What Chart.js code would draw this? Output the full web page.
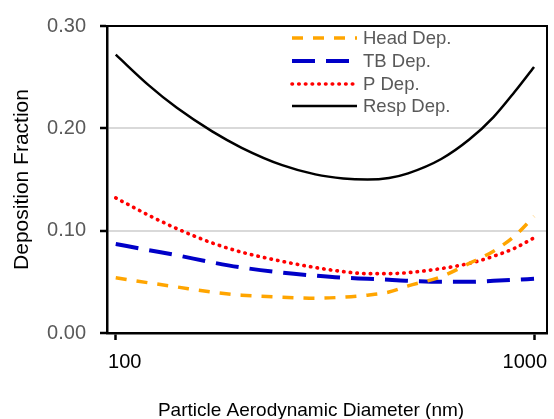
<!DOCTYPE html>
<html>
<head>
<meta charset="utf-8">
<script src="https://cdn.jsdelivr.net/npm/chart.js@4.4.1/dist/chart.umd.min.js"></script>
<style>
  html, body { margin: 0; padding: 0; background: #fff; }
  #wrap { width: 554px; height: 419px; position: relative; }
</style>
</head>
<body>
<div id="wrap"><canvas id="chart"></canvas></div>
<script>
// particle diameters (nm)
const diameters = [100, 120, 140, 170, 200, 250, 300, 350, 400, 450, 500, 600, 700, 800, 900, 1000];

// deposition fractions
const headDep = [0.054, 0.049, 0.045, 0.040, 0.037, 0.035, 0.034, 0.035, 0.037, 0.040, 0.046, 0.055, 0.068, 0.080, 0.095, 0.114];
const tbDep   = [0.087, 0.081, 0.076, 0.069, 0.064, 0.059, 0.056, 0.054, 0.053, 0.052, 0.051, 0.050, 0.050, 0.051, 0.052, 0.053];
const pDep    = [0.132, 0.115, 0.102, 0.088, 0.079, 0.070, 0.064, 0.060, 0.058, 0.058, 0.059, 0.063, 0.068, 0.075, 0.083, 0.093];
const respDep = [0.272, 0.242, 0.220, 0.197, 0.181, 0.164, 0.155, 0.151, 0.150, 0.1515, 0.156, 0.170, 0.189, 0.211, 0.236, 0.260];

const xTicks = [100, 1000];
const yTicks = [0, 0.1, 0.2, 0.3];
const xTitle = "Particle Aerodynamic Diameter (nm)";

const FONT = "'Liberation Sans', Arial, sans-serif";

const pts = vals => vals.map((v, i) => ({ x: diameters[i], y: v }));

// box around the plot, x tick labels / title and the legend
const framePlugin = {
  id: "frame",
  afterDraw(chart) {
    const { ctx, chartArea: a } = chart;
    ctx.save();
    ctx.strokeStyle = "#000";
    ctx.lineWidth = 2;
    ctx.beginPath();
    ctx.moveTo(a.left, a.top);
    ctx.lineTo(a.right, a.top);
    ctx.lineTo(a.right, a.bottom);
    ctx.stroke();

    // x tick labels: first one nudged right, last one kept inside the frame
    const xs = chart.scales.x;
    ctx.font = "20px " + FONT;
    ctx.fillStyle = "#000";
    ctx.textBaseline = "middle";
    ctx.textAlign = "center";
    ctx.fillText(String(xTicks[0]), xs.getPixelForValue(xTicks[0]) + 9, a.bottom + 29);
    ctx.textAlign = "right";
    ctx.fillText(String(xTicks[1]), a.right, a.bottom + 29);

    // x axis title, sits a bit left of the plot centre like the original
    ctx.font = "19px " + FONT;
    ctx.textAlign = "center";
    ctx.fillText(xTitle, 311, 411);

    // legend
    const x0 = 292, len = 65, rowY = [38, 61, 84, 106];
    ctx.font = "18.5px " + FONT;
    ctx.textAlign = "left";
    chart.data.datasets.forEach((ds, i) => {
      ctx.beginPath();
      ctx.strokeStyle = ds.borderColor;
      ctx.lineWidth = ds.borderWidth;
      ctx.lineCap = ds.borderCapStyle || "butt";
      ctx.setLineDash(ds.borderDash || []);
      ctx.moveTo(x0, rowY[i]);
      ctx.lineTo(x0 + len, rowY[i]);
      ctx.stroke();
      ctx.setLineDash([]);
      ctx.fillStyle = "#595959";
      ctx.fillText(ds.label, 363, rowY[i] + 1);
    });
    ctx.restore();
  }
};

const ctx = document.getElementById("chart");

new Chart(ctx, {
  type: "line",
  data: {
    datasets: [
      {
        label: "Head Dep.",
        data: pts(headDep),
        borderColor: "#FFA500",
        borderWidth: 3.5,
        borderDash: [11, 10]
      },
      {
        label: "TB Dep.",
        data: pts(tbDep),
        borderColor: "#0000C8",
        borderWidth: 4,
        borderDash: [23, 11]
      },
      {
        label: "P Dep.",
        data: pts(pDep),
        borderColor: "#FF0000",
        borderWidth: 3.6,
        borderDash: [0.5, 6.2],
        borderCapStyle: "round"
      },
      {
        label: "Resp Dep.",
        data: pts(respDep),
        borderColor: "#000000",
        borderWidth: 2.5
      }
    ]
  },
  options: {
    responsive: true,
    maintainAspectRatio: false,
    animation: false,
    devicePixelRatio: 1,
    layout: { padding: { top: 23, right: 7, left: 0, bottom: 0 } },
    elements: {
      point: { radius: 0 },
      line: { cubicInterpolationMode: "monotone", fill: false }
    },
    plugins: {
      legend: { display: false },
      tooltip: { enabled: false }
    },
    scales: {
      x: {
        type: "logarithmic",
        min: 95.3,
        max: 1074,
        afterBuildTicks: s => { s.ticks = xTicks.map(v => ({ value: v })); },
        afterFit: s => { s.height = 86; s.paddingLeft = 0; s.paddingRight = 0; },
        ticks: { display: false },
        grid: {
          drawOnChartArea: false,
          drawTicks: true,
          tickLength: 7,
          tickColor: "#000",
          tickWidth: 2.5
        },
        border: { display: true, color: "#000", width: 2.5 }
      },
      y: {
        min: 0,
        max: 0.3,
        afterBuildTicks: s => { s.ticks = yTicks.map(v => ({ value: v })); },
        afterFit: s => { s.width = 107; },
        ticks: {
          callback: v => v.toFixed(2),
          color: "#595959",
          font: { family: FONT, size: 20 },
          padding: 14
        },
        grid: {
          color: c => (c.tick && c.tick.value > 0 && c.tick.value < 0.3) ? "#D9D9D9" : "rgba(0,0,0,0)",
          lineWidth: 2,
          drawTicks: true,
          tickLength: 7,
          tickColor: "#000",
          tickWidth: 2.5
        },
        border: { display: true, color: "#000", width: 2.5 },
        title: {
          display: true,
          text: "Deposition Fraction",
          color: "#000",
          font: { family: FONT, size: 21 },
          padding: { top: 10, bottom: 0 }
        }
      }
    }
  },
  plugins: [framePlugin]
});
</script>
</body>
</html>
